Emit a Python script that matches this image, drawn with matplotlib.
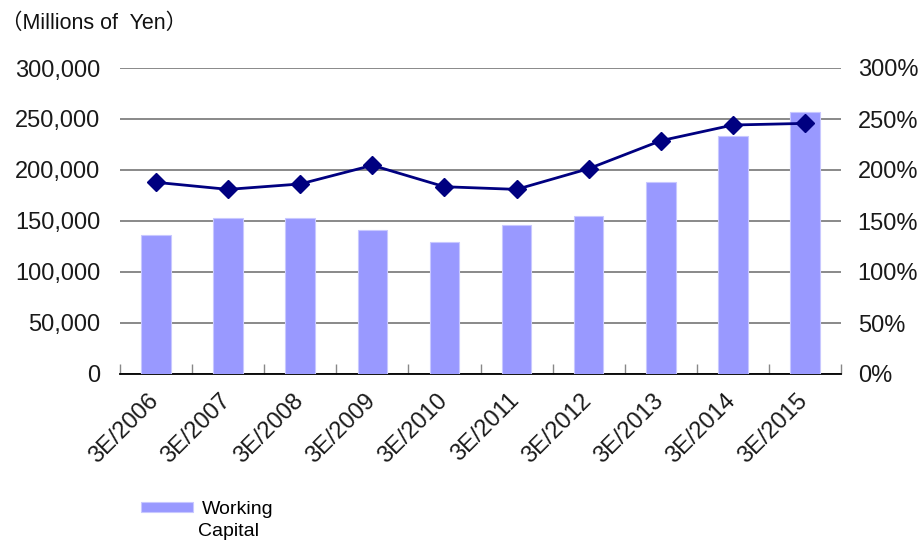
import matplotlib
matplotlib.use("Agg")
import matplotlib.pyplot as plt
from matplotlib.ticker import FuncFormatter, FixedLocator
import matplotlib.transforms as mtrans

categories = ["3E/2006", "3E/2007", "3E/2008", "3E/2009", "3E/2010",
              "3E/2011", "3E/2012", "3E/2013", "3E/2014", "3E/2015"]
working_capital = [136300, 152900, 152600, 140900, 129700,
                   146100, 154900, 187900, 233600, 257200]
current_ratio = [187.9, 181.0, 186.3, 204.6, 183.6,
                 181.0, 201.3, 228.7, 244.1, 245.7]
left_ticks = [0, 50000, 100000, 150000, 200000, 250000, 300000]
right_ticks = [0, 50, 100, 150, 200, 250, 300]

FONT = ["Liberation Sans", "Noto Sans CJK KR", "DejaVu Sans"]
plt.rcParams["font.family"] = FONT

fig = plt.figure(figsize=(9.21, 5.4), dpi=100)
ax = fig.add_axes([120/921, 1-374/540, (841-120)/921, (374-68)/540])
ax2 = ax.twinx()

x = list(range(len(categories)))
ax.bar(x, working_capital, width=0.41, color="#9999FF", edgecolor="#C8C8FF",
       linewidth=0.8, zorder=3, label="Working")
ax.set_xlim(-0.5, len(categories) - 0.5)
ax.set_ylim(0, 300000)
ax.yaxis.set_major_locator(FixedLocator(left_ticks))
ax.yaxis.set_major_formatter(FuncFormatter(lambda v, p: f"{int(v):,}"))
ax.grid(axis="y", color="#808080", linewidth=1.3, zorder=0)
ax.set_axisbelow(True)
for s in ["top", "left", "right"]:
    ax.spines[s].set_visible(False)
ax.spines["bottom"].set_color("black")
ax.spines["bottom"].set_linewidth(1.3)
ax.tick_params(axis="y", length=0, pad=14.4, labelsize=17, labelcolor="#1a1a1a")

ax.set_xticks(x)
ax.set_xticklabels(categories, rotation=45, ha="right", rotation_mode="anchor",
                   fontsize=17, color="#1a1a1a")
ax.tick_params(axis="x", which="major", length=0, pad=11)
ax.set_xticks([i - 0.5 for i in range(len(categories) + 1)], minor=True)
ax.tick_params(axis="x", which="minor", direction="in", length=7, width=1,
               color="#888888")
offset = mtrans.ScaledTranslation(-6/72, 0, fig.dpi_scale_trans)
for lbl in ax.get_xticklabels():
    lbl.set_transform(lbl.get_transform() + offset)

ax2.plot(x, current_ratio, color="#000080", linewidth=2, marker="D",
         markersize=9, zorder=5)
ax2.set_ylim(0, 300)
ax2.yaxis.set_major_locator(FixedLocator(right_ticks))
ax2.yaxis.set_major_formatter(FuncFormatter(lambda v, p: f"{int(v)}%"))
ax2.tick_params(axis="y", length=0, pad=12, labelsize=17, labelcolor="#1a1a1a")
for s in ["top", "left", "right", "bottom"]:
    ax2.spines[s].set_visible(False)

fig.text(1/921, 1-23/540, "（Millions of  Yen）", fontsize=15.5, va="center",
         ha="left", color="#111111")

handles, labels = ax.get_legend_handles_labels()
leg = fig.legend(handles, labels, loc="center left",
                 bbox_to_anchor=(141/921, 1-509.5/540), frameon=False,
                 fontsize=14, handlelength=2.67, handleheight=0.46,
                 handletextpad=0.45, borderaxespad=0, borderpad=0)
fig.text(198/921, 1-536/540, "Capital", fontsize=14, va="baseline",
         ha="left", color="black")

fig.savefig("out.png", dpi=100)
